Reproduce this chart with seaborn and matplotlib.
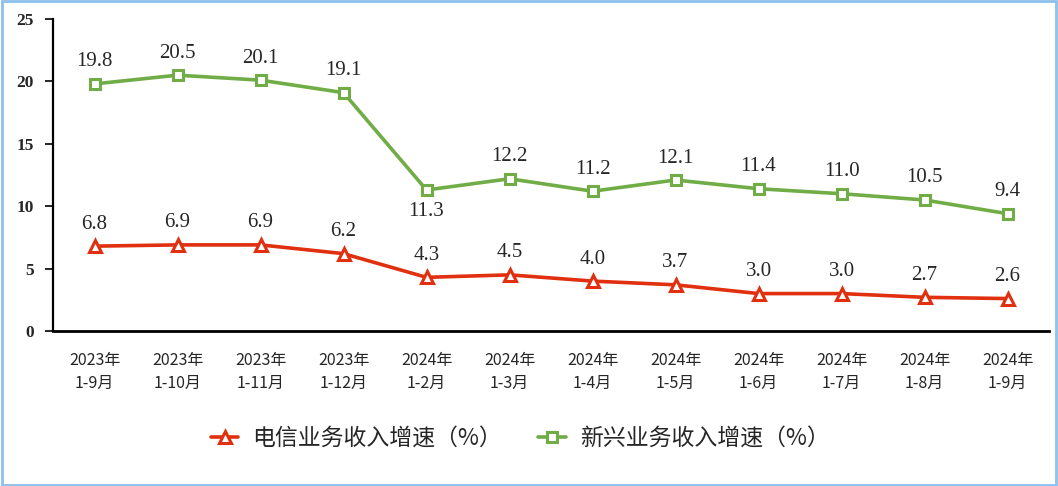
import pandas as pd
import matplotlib.pyplot as plt
import seaborn as sns
from matplotlib.patches import Rectangle

# Data
periods = ["2023年\n1-9月", "2023年\n1-10月", "2023年\n1-11月", "2023年\n1-12月",
           "2024年\n1-2月", "2024年\n1-3月", "2024年\n1-4月", "2024年\n1-5月",
           "2024年\n1-6月", "2024年\n1-7月", "2024年\n1-8月", "2024年\n1-9月"]
telecom = [6.8, 6.9, 6.9, 6.2, 4.3, 4.5, 4.0, 3.7, 3.0, 3.0, 2.7, 2.6]
emerging = [19.8, 20.5, 20.1, 19.1, 11.3, 12.2, 11.2, 12.1, 11.4, 11.0, 10.5, 9.4]
series_names = ["电信业务收入增速（%）", "新兴业务收入增速（%）"]

sns.set_style("white")
plt.rcParams['font.family'] = ['Noto Sans CJK SC', 'DejaVu Sans']

red = "#E0300F"
green = "#70AD47"

df = pd.DataFrame({"idx": range(len(periods)), "period": periods,
                   series_names[0]: telecom, series_names[1]: emerging})

fig = plt.figure(figsize=(10.58, 4.86), dpi=100)
ax = fig.add_axes([0.0501, 0.3189, 0.9414, 0.642])

sns.lineplot(data=df, x="idx", y=series_names[0], ax=ax, color=red, lw=2.6,
             marker="^", markersize=9, markerfacecolor="white",
             markeredgecolor=red, markeredgewidth=2.2, label=series_names[0])
sns.lineplot(data=df, x="idx", y=series_names[1], ax=ax, color=green, lw=2.6,
             marker="s", markersize=7.5, markerfacecolor="white",
             markeredgecolor=green, markeredgewidth=2.2, label=series_names[1])

# data labels
for i, v in enumerate(telecom):
    ax.annotate(f"{v:.1f}", (i, v), xytext=(0, 9), textcoords="offset points",
                ha="center", va="bottom", fontsize=15, family="Liberation Serif")
for i, v in enumerate(emerging):
    below = periods[i] == "2024年\n1-2月"
    ax.annotate(f"{v:.1f}", (i, v), xytext=(0, -9 if below else 9),
                textcoords="offset points", ha="center",
                va="top" if below else "bottom", fontsize=15,
                family="Liberation Serif")

ax.set_xlim(-0.5, len(periods) - 0.5)
ax.set_ylim(0, 25)
ax.set_yticks([0, 5, 10, 15, 20, 25])
ax.set_yticklabels(["0", "5", "10", "15", "20", "25"],
                   fontsize=12.5, fontweight="bold", family="Liberation Serif")

# category boundaries as major ticks, labels at centers
ax.set_xticks([i - 0.5 for i in range(len(periods) + 1)])
ax.set_xticklabels([])
ax.set_xticks(range(len(periods)), minor=True)
ax.set_xticklabels(periods, minor=True, fontsize=11.5, linespacing=1.45)
ax.tick_params(axis="x", which="major", direction="out", length=7, width=1.2,
               color="black")
ax.tick_params(axis="x", which="minor", length=0, pad=15)
ax.tick_params(axis="y", direction="out", length=6, width=1.2, color="black",
               pad=8, left=True)
ax.set_xlabel("")
ax.set_ylabel("")

for s in ["top", "right"]:
    ax.spines[s].set_visible(False)
ax.spines["left"].set_color("black")
ax.spines["left"].set_linewidth(1.6)
ax.spines["bottom"].set_color("black")
ax.spines["bottom"].set_linewidth(2)

ax.legend(loc="center", bbox_to_anchor=(0.469, -0.345), ncol=2, frameon=False,
          fontsize=16.5, handlelength=1.2, columnspacing=1.6, handletextpad=0.6)

fig.patches.append(Rectangle((0.002, 0.003), 0.996, 0.994,
                             transform=fig.transFigure, fill=False,
                             edgecolor="#8DC0EC", lw=2))

fig.savefig("out.png", dpi=100)
